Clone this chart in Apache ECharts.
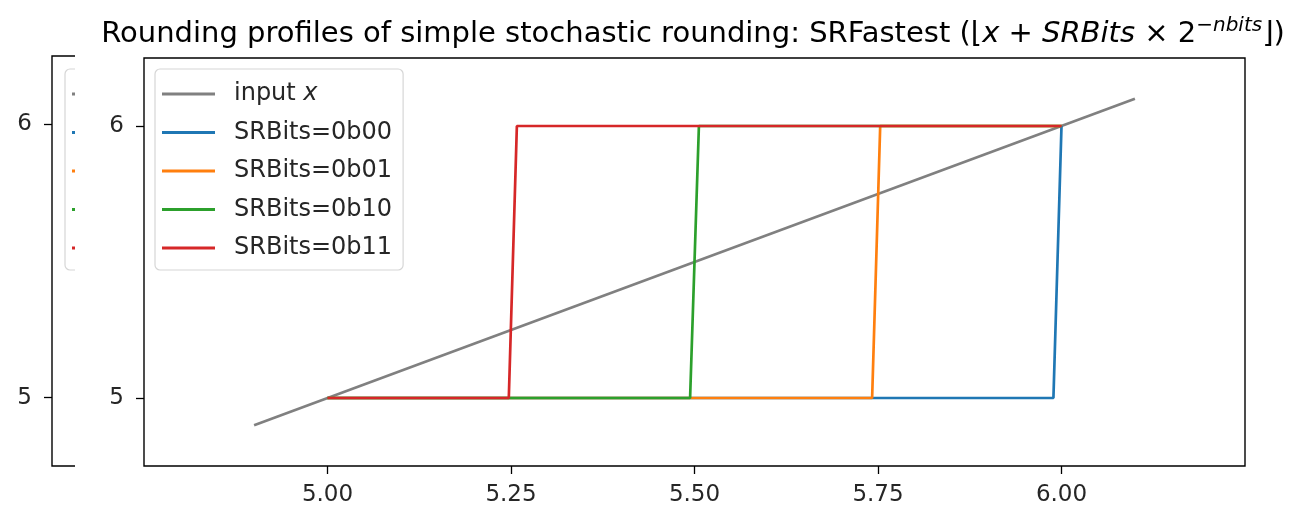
<!DOCTYPE html>
<html>
<head>
<meta charset="utf-8">
<script src="https://cdn.jsdelivr.net/npm/echarts@6/dist/echarts.min.js"></script>
<style>
  html, body { margin: 0; padding: 0; background: #fff; }
  #ghost { position: absolute; left: 0; top: 0; width: 1311px; height: 507px; }
  #main { position: absolute; left: 75px; top: 0; width: 1236px; height: 507px; background: #fff; }
</style>
</head>
<body>
<div id="ghost"></div>
<div id="main"></div>
<script>
// ---- data ----
const seriesNames = ['input x', 'SRBits=0b00', 'SRBits=0b01', 'SRBits=0b10', 'SRBits=0b11'];
const inputX  = [[4.9, 4.9], [6.1, 6.1]];
const sr0b00  = [[5.0, 5], [5.989, 5], [6.0, 6]];
const sr0b01  = [[5.0, 5], [5.742, 5], [5.753, 6], [6.0, 6]];
const sr0b10  = [[5.0, 5], [5.494, 5], [5.506, 6], [6.0, 6]];
const sr0b11  = [[5.0, 5], [5.247, 5], [5.258, 6], [6.0, 6]];
const xTicks  = [5.0, 5.25, 5.5, 5.75, 6.0];
const yTicks  = [5, 6];
const colors  = ['#808080', '#1f77b4', '#ff7f0e', '#2ca02c', '#d62728'];
const titleText = 'Rounding profiles of simple stochastic rounding: SRFastest (⌊{i|x} + {i|SRBits} × 2{sup|−nbits}⌋)';

const FONT = 'DejaVu Sans';
const allData = [inputX, sr0b00, sr0b01, sr0b10, sr0b11];

function makeOption(grid, legendLeft, legendTop, withTitle) {
  const opt = {
    animation: false,
    textStyle: { fontFamily: FONT },
    grid: Object.assign({ show: true, borderColor: '#000', borderWidth: 1.4, backgroundColor: 'transparent' }, grid),
    xAxis: {
      type: 'value', min: 4.75, max: 6.25,
      axisLine: { show: false },
      splitLine: { show: false },
      axisTick: { show: true, length: 8, lineStyle: { color: '#000', width: 1.3 }, customValues: xTicks },
      axisLabel: { customValues: xTicks, margin: 18, fontSize: 23, color: '#262626', fontFamily: FONT,
        formatter: v => v.toFixed(2) }
    },
    yAxis: {
      type: 'value', min: 4.75, max: 6.25,
      axisLine: { show: false },
      splitLine: { show: false },
      axisTick: { show: true, length: 8, lineStyle: { color: '#000', width: 1.3 }, customValues: yTicks },
      axisLabel: { customValues: yTicks, margin: 20, fontSize: 23, color: '#262626', fontFamily: FONT,
        formatter: v => String(Math.round(v)) }
    },
    legend: {
      orient: 'vertical', left: legendLeft, top: legendTop,
      icon: 'rect', itemWidth: 53, itemHeight: 3, itemGap: 12.5,
      backgroundColor: '#fff', borderColor: '#d6d6d6', borderWidth: 1.2, borderRadius: 5,
      padding: [12, 11, 9, 7],
      data: seriesNames,
      formatter: n => n === 'input x' ? 'input {i|x}' : n,
      textStyle: { fontSize: 24, lineHeight: 26, color: '#262626', fontFamily: FONT, padding: [0, 0, 0, 14],
        rich: { i: { fontSize: 24, fontStyle: 'italic', fontFamily: FONT, color: '#262626', lineHeight: 26 } } }
    },
    series: seriesNames.map((name, k) => ({
      name, type: 'line', data: allData[k], symbol: 'none', showSymbol: false,
      color: colors[k], lineStyle: { color: colors[k], width: 2.7 }, z: 2 + k
    }))
  };
  if (withTitle) {
    opt.title = {
      text: titleText, left: 613, textAlign: 'center', top: 11,
      textStyle: { fontSize: 29, fontWeight: 'normal', color: '#000', fontFamily: FONT, lineHeight: 36,
        rich: {
          i: { fontSize: 29, fontStyle: 'italic', fontFamily: FONT, color: '#000', lineHeight: 36 },
          sup: { fontSize: 20, fontStyle: 'italic', fontFamily: FONT, color: '#000', verticalAlign: 'top', lineHeight: 22 }
        } }
    };
  }
  return opt;
}

const ghost = echarts.init(document.getElementById('ghost'), null, { renderer: 'canvas' });
ghost.setOption(makeOption({ left: 52, top: 56, width: 1101, height: 411 }, 65, 69, false));

const main = echarts.init(document.getElementById('main'), null, { renderer: 'canvas' });
main.setOption(makeOption({ left: 69, top: 58, width: 1101, height: 409 }, 80, 69, true));
</script>
</body>
</html>
